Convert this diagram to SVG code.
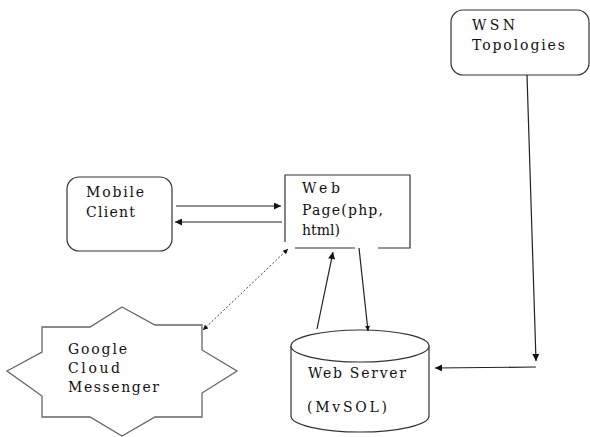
<svg xmlns="http://www.w3.org/2000/svg" width="590" height="437" viewBox="0 0 590 437">
<style>
.box{fill:#fff;stroke:#333;stroke-width:1.2}
.star{fill:#fff;stroke:#666;stroke-width:1.3}
.t{font-family:"DejaVu Serif","Liberation Serif",serif;font-size:14px;fill:#111}
.c{fill:none;stroke:#222;stroke-width:1.2}
.d{fill:none;stroke:#444;stroke-width:1;stroke-dasharray:2,2}
</style>
<defs>
<marker id="ah" viewBox="0 0 10 10" refX="10" refY="5" markerWidth="8" markerHeight="7" markerUnits="userSpaceOnUse" orient="auto-start-reverse">
<path d="M0,0 L10,5 L0,10 Z" fill="#111"/>
</marker>
<marker id="as" viewBox="0 0 10 10" refX="10" refY="5" markerWidth="6" markerHeight="5" markerUnits="userSpaceOnUse" orient="auto-start-reverse">
<path d="M0,0 L10,5 L0,10 Z" fill="#111"/>
</marker>
</defs>
<rect width="590" height="437" fill="#fff"/>
<g id="wsn">
<rect class="box" x="451" y="10" width="138" height="65" rx="12"/>
<text class="t" x="472" y="30" textLength="43" lengthAdjust="spacing">WSN</text>
<text class="t" x="472" y="50" textLength="93" lengthAdjust="spacing">Topologies</text>
</g>
<g id="mobile">
<rect class="box" x="67" y="177" width="105" height="74" rx="12"/>
<text class="t" x="86" y="197" textLength="58" lengthAdjust="spacing">Mobile</text>
<text class="t" x="86" y="217" textLength="49" lengthAdjust="spacing">Client</text>
</g>
<g id="webpage">
<path class="box" d="M295,248 L355,248 M378,248 L410,248 L410,175 L285,175 L285,242" fill="none"/>
<text class="t" x="302" y="193" textLength="38" lengthAdjust="spacing">Web</text>
<text class="t" x="302" y="215" textLength="81" lengthAdjust="spacing">Page(php,</text>
<text class="t" x="302" y="235" textLength="38" lengthAdjust="spacing">html)</text>
</g>
<g id="gcm">
<polygon class="star" points="122,307 155,325 202,325 202,350 237,371 202,393 202,417 155,417 122,436 90,417 42,417 42,396 7,371 42,352 42,327 90,327"/>
<text class="t" x="68" y="354" textLength="59" lengthAdjust="spacing">Google</text>
<text class="t" x="68" y="373" textLength="52" lengthAdjust="spacing">Cloud</text>
<text class="t" x="68" y="392" textLength="91" lengthAdjust="spacing">Messenger</text>
</g>
<g id="webserver">
<path class="box" d="M291,346 L291,416 A69,16 0 0 0 429,416 L429,346"/>
<ellipse class="box" cx="360" cy="346" rx="69" ry="16"/>
<text class="t" x="308" y="378" textLength="98" lengthAdjust="spacing">Web Server</text>
<text class="t" x="307" y="412" textLength="80" lengthAdjust="spacing">(MvSOL)</text>
</g>
<g id="connectors">
<line class="c" x1="176" y1="206" x2="281" y2="206" marker-end="url(#ah)"/>
<line class="c" x1="282" y1="222" x2="175" y2="222" marker-end="url(#ah)"/>
<line class="d" x1="203" y1="330" x2="288" y2="249" marker-start="url(#as)" marker-end="url(#as)"/>
<line class="c" x1="317" y1="329" x2="333" y2="252" marker-end="url(#ah)"/>
<line class="c" x1="359" y1="248" x2="368" y2="331" marker-end="url(#as)"/>
<line class="c" x1="527" y1="75" x2="536" y2="361" marker-end="url(#ah)"/>
<line class="c" x1="536" y1="367" x2="435" y2="368" marker-end="url(#ah)"/>
</g>
</svg>
